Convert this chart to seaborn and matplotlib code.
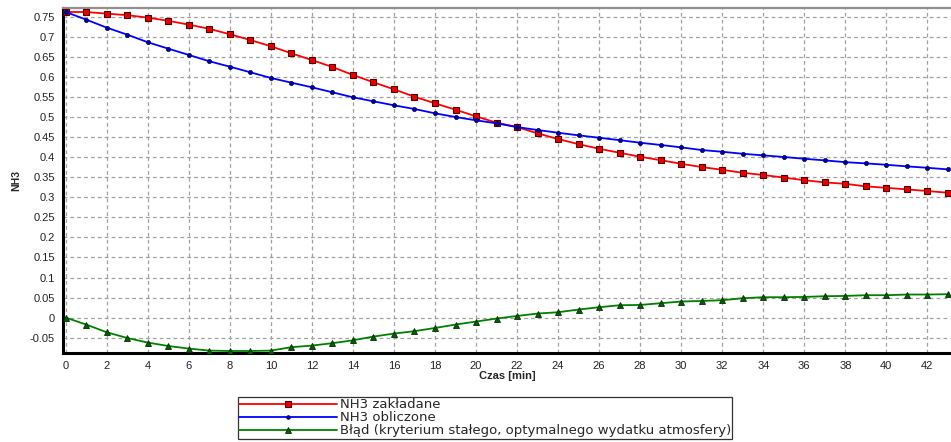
import numpy as np
import pandas as pd
import matplotlib
matplotlib.use("Agg")
import matplotlib.pyplot as plt
import seaborn as sns
from matplotlib.ticker import MultipleLocator, FuncFormatter

czas = list(range(0, 44))
nh3_zakladane = [0.763, 0.763, 0.759, 0.755, 0.749, 0.741, 0.7315, 0.721, 0.7075, 0.693,
                 0.6775, 0.66, 0.643, 0.6257, 0.6058, 0.5875, 0.57, 0.5515, 0.535, 0.519,
                 0.5025, 0.4865, 0.4757, 0.46, 0.4458, 0.433, 0.4215, 0.4115, 0.4015, 0.393,
                 0.384, 0.3757, 0.369, 0.3615, 0.356, 0.3495, 0.343, 0.3375, 0.334, 0.3275,
                 0.324, 0.32, 0.316, 0.3117]
nh3_obliczone = [0.763, 0.744, 0.724, 0.7065, 0.6875, 0.6715, 0.6558, 0.64, 0.6265, 0.6125,
                 0.5983, 0.5865, 0.575, 0.5625, 0.55, 0.54, 0.53, 0.5208, 0.51, 0.5008,
                 0.4925, 0.485, 0.4757, 0.4683, 0.4615, 0.455, 0.449, 0.443, 0.4365, 0.431,
                 0.425, 0.4183, 0.414, 0.409, 0.405, 0.401, 0.3965, 0.3925, 0.388, 0.385,
                 0.3815, 0.3775, 0.374, 0.37]
blad = [0.0, -0.0175, -0.0367, -0.051, -0.0625, -0.071, -0.0775, -0.0825, -0.0835, -0.0835,
        -0.0825, -0.074, -0.07, -0.064, -0.0568, -0.0475, -0.04, -0.034, -0.026, -0.0175,
        -0.01, -0.0025, 0.004, 0.01, 0.0133, 0.02, 0.0258, 0.0308, 0.0315, 0.0358,
        0.04, 0.0415, 0.0433, 0.0483, 0.0508, 0.0508, 0.0515, 0.0533, 0.054, 0.0558,
        0.0558, 0.0575, 0.0575, 0.0583]

labels = ["NH3 zakładane", "NH3 obliczone",
          "Błąd (kryterium stałego, optymalnego wydatku atmosfery)"]

sns.set_style("white")
plt.rcParams['font.family'] = ['Liberation Sans', 'DejaVu Sans']

fig = plt.figure(figsize=(9.51, 4.42), dpi=100)
ax = fig.add_axes([63 / 951, 1 - 353 / 442, 1 - 63 / 951, (353 - 8) / 442])

df = pd.DataFrame({"czas": czas, "a": nh3_zakladane, "b": nh3_obliczone, "c": blad})

sns.lineplot(data=df, x="czas", y="a", ax=ax, color="#ff0000", lw=1.3,
             marker="s", markersize=4.8, markerfacecolor="#e80000",
             markeredgecolor="#500000", markeredgewidth=0.8, label=labels[0], zorder=3)
sns.lineplot(data=df, x="czas", y="b", ax=ax, color="#0000ff", lw=1.3,
             marker="o", markersize=3.0, markerfacecolor="#0000a0",
             markeredgecolor="#000060", markeredgewidth=0.5, label=labels[1], zorder=4)
sns.lineplot(data=df, x="czas", y="c", ax=ax, color="#008000", lw=1.3,
             marker="^", markersize=4.8, markerfacecolor="#0a5a0a",
             markeredgecolor="#003000", markeredgewidth=0.6, label=labels[2], zorder=3)

ax.set_xlim(-0.13, 43.15)
ax.set_ylim(-0.0885, 0.773)
ax.xaxis.set_major_locator(MultipleLocator(2))
ax.xaxis.set_minor_locator(MultipleLocator(0.5))
ax.yaxis.set_major_locator(MultipleLocator(0.05))
ax.yaxis.set_major_formatter(FuncFormatter(lambda v, p: "%g" % round(v, 2)))

ax.grid(True, which="major", color="#a0a0a0", linestyle=(0, (3, 2.5)), linewidth=0.9)
ax.tick_params(axis="both", which="major", labelsize=8, length=4, width=1,
               color="black", direction="out", pad=2, labelcolor="#222222")
ax.tick_params(axis="x", which="major", direction="inout", length=6)
ax.tick_params(axis="x", which="minor", direction="in", length=3, width=0.8, color="#333333")
ax.tick_params(axis="x", which="major", labelsize=8, pad=3)

for side in ["left", "bottom"]:
    ax.spines[side].set_color("black")
    ax.spines[side].set_linewidth(2.2)
ax.spines["top"].set_color("#909090")
ax.spines["top"].set_linewidth(1.6)
ax.spines["right"].set_visible(False)

ax.set_xlabel("Czas [min]", fontsize=8, fontweight="bold", labelpad=0)
ax.set_ylabel("NH3", fontsize=7.5, fontweight="bold", labelpad=6)

handles, lbls = ax.get_legend_handles_labels()
ax.get_legend().remove()
leg = fig.legend(handles, lbls, loc="upper left",
                 bbox_to_anchor=(238 / 951, 1 - 397 / 442),
                 prop={"family": ["DejaVu Sans"], "size": 9.5},
                 frameon=True, fancybox=False, borderpad=0.1,
                 labelspacing=0.0, handlelength=7.4, handletextpad=0.2,
                 borderaxespad=0.0, markerscale=0.9)
leg.get_frame().set_edgecolor("black")
leg.get_frame().set_linewidth(0.9)

fig.savefig("out.png", dpi=100)
